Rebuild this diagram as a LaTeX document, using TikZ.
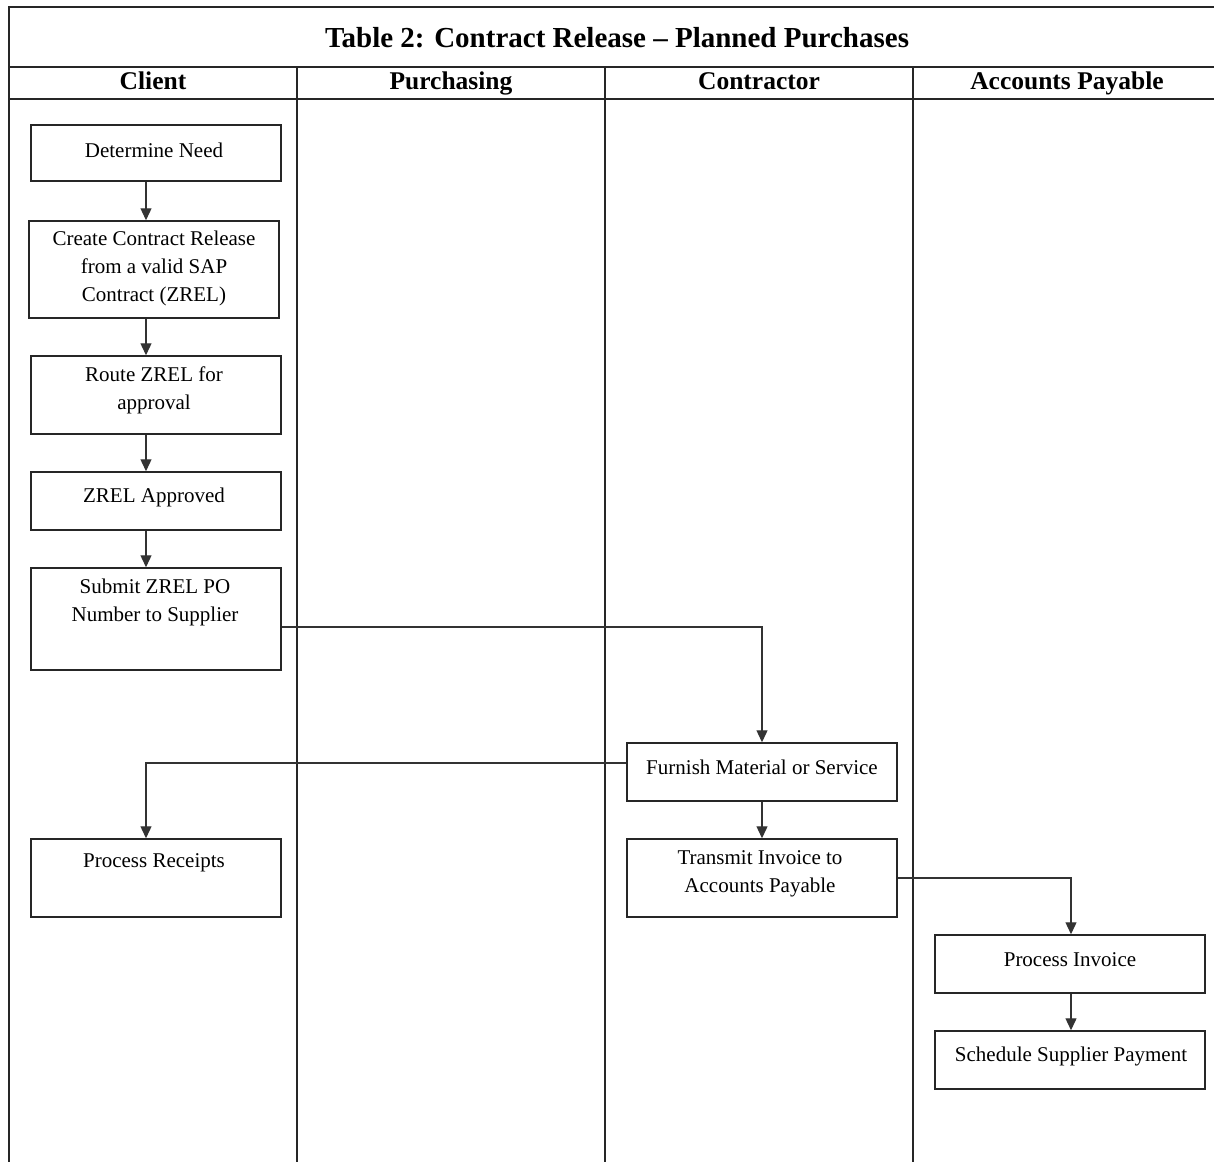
\documentclass[tikz,border=0pt]{standalone}
\usepackage{fontspec}
\setmainfont{Liberation Serif}
\usetikzlibrary{arrows.meta}
\begin{document}
\begin{tikzpicture}[x=1pt,y=-1pt,
  frame/.style={line width=1.5pt, draw=black!85},
  box/.style={draw=black!85, line width=1.5pt, inner sep=0pt, fill=white},
  txt/.style={font=\fontsize{21}{28}\selectfont, align=center, inner sep=0pt},
  head/.style={font=\fontsize{25.5}{30}\selectfont\bfseries, inner sep=0pt, anchor=base},
  ttl/.style={font=\fontsize{29}{34}\selectfont\bfseries, inner sep=0pt, anchor=base},
  flow/.style={draw=black!80, line width=1.3pt, -{Triangle[length=12pt,width=11pt]}}
]
\useasboundingbox (0,0) rectangle (1214,1161);
% frame
\draw[frame] (9,1163) -- (9,7) -- (1216,7);
\draw[frame] (9,67) -- (1216,67);
\draw[frame] (9,99) -- (1216,99);
\draw[frame] (297,67) -- (297,1163);
\draw[frame] (605,67) -- (605,1163);
\draw[frame] (913,67) -- (913,1163);
% titles
\node[ttl] (title) at (617,48) {Table 2: Contract Release -- Planned Purchases};
\node[head] (h1) at (153,90) {Client};
\node[head] (h2) at (451,90) {Purchasing};
\node[head] (h3) at (759,90) {Contractor};
\node[head] (h4) at (1067,90) {Accounts Payable};
% boxes
\node[box, minimum width=250pt, minimum height=56pt] (n1) at (156,153) {};
\node[box, minimum width=250pt, minimum height=97pt] (n2) at (154,269.5) {};
\node[box, minimum width=250pt, minimum height=78pt] (n3) at (156,395) {};
\node[box, minimum width=250pt, minimum height=58pt] (n4) at (156,501) {};
\node[box, minimum width=250pt, minimum height=102pt] (n5) at (156,619) {};
\node[box, minimum width=250pt, minimum height=78pt] (n6) at (156,878) {};
\node[box, minimum width=270pt, minimum height=58pt] (c1) at (762,772) {};
\node[box, minimum width=270pt, minimum height=78pt] (c2) at (762,878) {};
\node[box, minimum width=270pt, minimum height=58pt] (a1) at (1070,964) {};
\node[box, minimum width=270pt, minimum height=58pt] (a2) at (1070,1060) {};
% texts
\node[txt] (t1) at (154,150) {Determine Need};
\node[txt] (t2) at (154,268) {Create Contract Release\\from a valid SAP\\Contract (ZREL)};
\node[txt] (t3) at (154,390.5) {Route ZREL for\\approval};
\node[txt] (t4) at (154,497) {ZREL Approved};
\node[txt] (t5) at (155,602.5) {Submit ZREL PO\\Number to Supplier};
\node[txt] (t6) at (154,863) {Process Receipts};
\node[txt] (t7) at (762,767) {Furnish Material or Service};
\node[txt] (t8) at (760,873.5) {Transmit Invoice to\\Accounts Payable};
\node[txt] (t9) at (1070,960) {Process Invoice};
\node[txt] (t10) at (1071,1056) {Schedule Supplier Payment};
% connectors
\coordinate (cx) at (146,0);
\coordinate (ax) at (1071,0);
\coordinate (r1) at (0,627);
\coordinate (r2) at (0,763);
\draw[flow] (n1.south -| cx) -- (n2.north -| cx);
\draw[flow] (n2.south -| cx) -- (n3.north -| cx);
\draw[flow] (n3.south -| cx) -- (n4.north -| cx);
\draw[flow] (n4.south -| cx) -- (n5.north -| cx);
\draw[flow] (n5.east |- r1) -| (c1.north);
\draw[flow] (c1.west |- r2) -| (n6.north -| cx);
\draw[flow] (c1.south) -- (c2.north);
\draw[flow] (c2.east) -| (a1.north -| ax);
\draw[flow] (a1.south -| ax) -- (a2.north -| ax);
\end{tikzpicture}
\end{document}
